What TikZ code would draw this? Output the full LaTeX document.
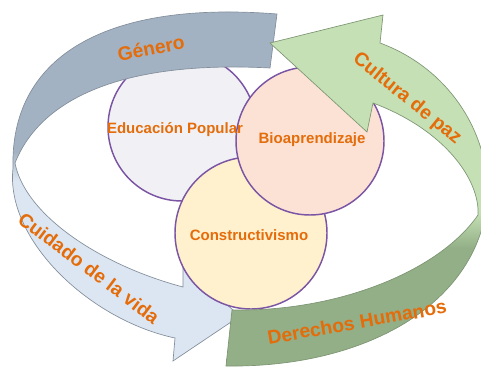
\documentclass[tikz,border=0pt]{standalone}
\usepackage{fontspec}
\setmainfont{Liberation Sans}
\definecolor{generogray}{HTML}{A3B2C2}
\definecolor{vidablue}{HTML}{DCE6F2}
\definecolor{pazgreen}{HTML}{C5E0B4}
\definecolor{derechosgreen}{HTML}{93AF87}
\definecolor{labelorange}{HTML}{E46C0A}
\definecolor{ringpurple}{HTML}{7B55A4}
\definecolor{edufill}{HTML}{F1F1F5}
\definecolor{biofill}{HTML}{FBE2D5}
\definecolor{constfill}{HTML}{FFF0CE}
\pgfdeclareverticalshading{leftribbon}{100bp}{color(0bp)=(vidablue); color(50bp)=(vidablue);
  color(54bp)=(generogray); color(100bp)=(generogray)}
\pgfdeclareverticalshading{rightribbon}{100bp}{color(0bp)=(derechosgreen); color(42bp)=(derechosgreen);
  color(47bp)=(pazgreen); color(100bp)=(pazgreen)}
\begin{document}
\begin{tikzpicture}[x=0.75pt, y=-0.75pt,
    ring/.style={circle, draw=ringpurple, line width=1.1pt, inner sep=0pt},
    ringtext/.style={font=\fontsize{11.25}{13}\selectfont\bfseries, text=labelorange, inner sep=0pt},
    bandtext/.style={font=\fontsize{14.5}{16}\selectfont\bfseries, text=labelorange, inner sep=0pt}]
    \clip (0,0) rectangle (481,367);

    \node[ring, fill=edufill, minimum size=111pt] (edu) at (182,127) {};

    % flecha izquierda: Genero -> Cuidado de la vida
    \coordinate (G1) at (277,14);
    \coordinate (G2) at (13,168);
    \coordinate (G3) at (175,338);
    \coordinate (G4) at (173,361);
    \coordinate (G5) at (240,316);
    \coordinate (G6) at (183,267);
    \coordinate (G7) at (183,287);
    \coordinate (G8) at (15,163);
    \coordinate (G9) at (270,68);
    \draw[draw=generogray!80!black, line width=0.5pt, shading=leftribbon]
        (G1) .. controls (100,0) and (10,60) .. (G2)
        .. controls (5,240) and (90,320) .. (G3) -- (G4) -- (G5) -- (G6) -- (G7)
        .. controls (100,265) and (25,215) .. (G8)
        .. controls (40,100) and (120,60) .. (G9) -- cycle;

    \node[ring, fill=constfill, minimum size=114pt] (cons) at (251,233) {};
    \node[ring, fill=biofill, minimum size=111pt] (bio) at (310,141) {};

    % flecha derecha: Derechos Humanos -> Cultura de paz
    \coordinate (D1) at (232,310);
    \coordinate (D2) at (478,215);
    \coordinate (D3) at (373,103);
    \coordinate (D4) at (367,132);
    \coordinate (D5) at (270,43);
    \coordinate (D6) at (383,15);
    \coordinate (D7) at (380,43);
    \coordinate (D8) at (488,190);
    \coordinate (D9) at (226,366);
    \draw[draw=derechosgreen!85!black, line width=0.5pt, shading=rightribbon]
        (D1) .. controls (340,312) and (440,270) .. (D2)
        .. controls (480,180) and (445,130) .. (D3) -- (D4) -- (D5) -- (D6) -- (D7)
        .. controls (440,65) and (485,120) .. (D8)
        .. controls (485,300) and (370,368) .. (D9) -- cycle;

    \node[ringtext] (edutext) at (175,130) {Educación Popular};
    \node[ringtext] (biotext) at (312,140) {Bioaprendizaje};
    \node[ringtext] (constext) at (249,235) {Constructivismo};

    \node[bandtext, rotate=11] (genero) at (151,48) {Género};
    \node[bandtext, rotate=-39] (paz) at (407,99) {Cultura de paz};
    \node[bandtext, rotate=-37] (vida) at (89,268) {Cuidado de la vida};
    \node[bandtext, rotate=10] (derechos) at (357,322) {Derechos Humanos};
\end{tikzpicture}
\end{document}
